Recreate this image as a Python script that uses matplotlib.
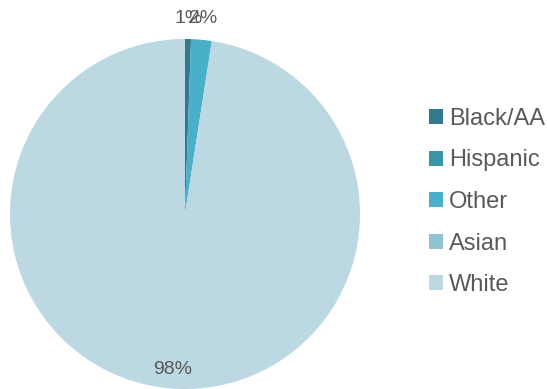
import matplotlib
matplotlib.use("Agg")
import matplotlib.pyplot as plt
from matplotlib.patches import Patch
import numpy as np

categories = ["Black/AA", "Hispanic", "Other", "Asian", "White"]
values = [0.55, 0.0, 1.9, 0.0, 97.55]
pct_labels = ["1%", "", "2%", "", "98%"]
colors = ["#31798c", "#3b93a7", "#4aafc8", "#92c3d3", "#bbd8e3"]

plt.rcParams['font.family'] = ['Liberation Sans', 'DejaVu Sans']
text_color = "#595959"

fig = plt.figure(figsize=(5.47, 3.89), dpi=100)
W, H = 547, 389
cx, cy, r = 185, 214, 175
ax = fig.add_axes([(cx - r) / W, (H - cy - r) / H, 2 * r / W, 2 * r / H])
wedges, _ = ax.pie(values, colors=colors, startangle=90, counterclock=False,
                   radius=1.0, wedgeprops=dict(linewidth=0))
ax.set_xlim(-1, 1)
ax.set_ylim(-1, 1)
ax.set_aspect('auto')
ax.axis('off')

for w, lab, v in zip(wedges, pct_labels, values):
    if not lab:
        continue
    mid = np.deg2rad((w.theta1 + w.theta2) / 2)
    d = 0.89 if v > 50 else 1.12
    ax.text(d * np.cos(mid), d * np.sin(mid), lab, ha='center', va='center',
            fontsize=14, color=text_color, clip_on=False)

handles = [Patch(facecolor=c, edgecolor='none') for c in colors]
fig.legend(handles, categories, loc='center left', bbox_to_anchor=(429 / W, 1 - 202 / H),
           frameon=False, fontsize=17, handlelength=0.6, handleheight=0.6,
           handletextpad=0.25, labelspacing=0.83, labelcolor=text_color,
           borderpad=0, borderaxespad=0)

fig.savefig("out.png", dpi=100)
